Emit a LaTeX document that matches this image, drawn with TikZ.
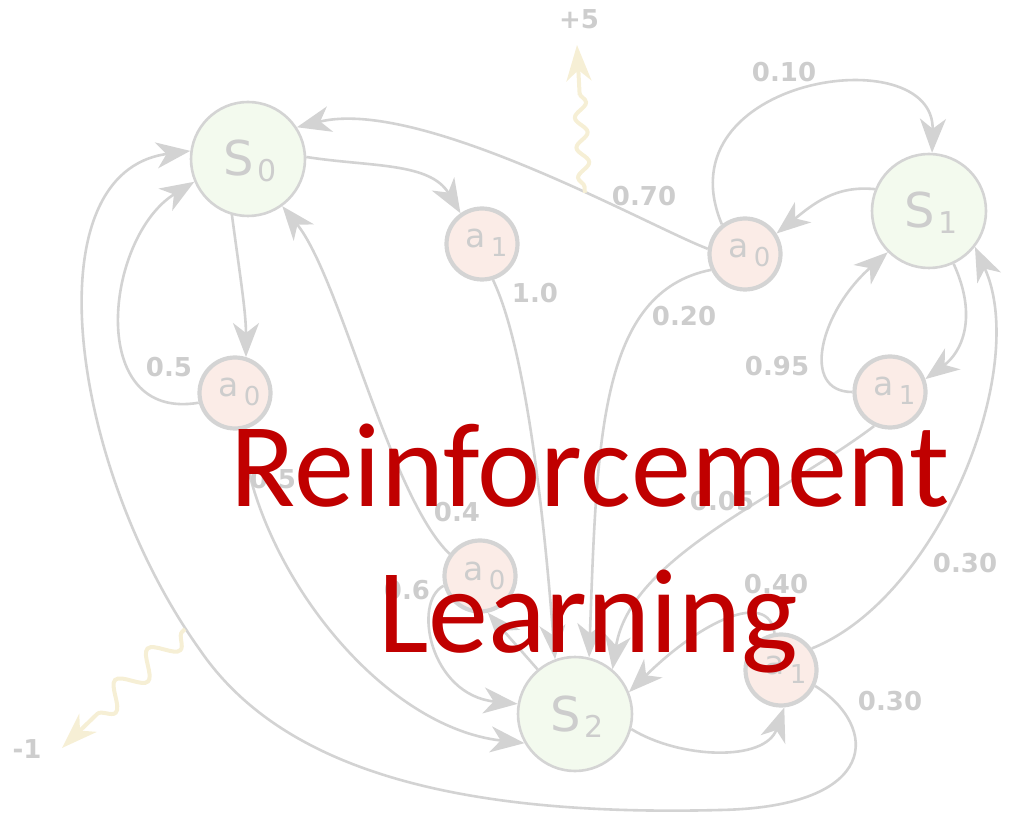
\documentclass[tikz,border=0pt]{standalone}
\usepackage{fontspec}
\setmainfont{Carlito}
\newfontfamily\dejavu{DejaVu Sans}
\usetikzlibrary{arrows.meta,decorations.pathmorphing}

\definecolor{edgegray}{HTML}{D3D3D3}
\definecolor{labelgray}{HTML}{CDCDCD}
\definecolor{ringgray}{HTML}{D4D4D4}
\definecolor{statefill}{HTML}{F3FAEE}
\definecolor{actionfill}{HTML}{FBECE7}
\definecolor{rewardyellow}{HTML}{F6EFD5}
\definecolor{titlered}{HTML}{C00000}

% state and action labels with lowered indices
\newcommand\stlabel[1]{\kern4pt S\kern3pt\raisebox{-6pt}{\fontsize{30}{30}\selectfont #1}}
\newcommand\aclabel[1]{\kern9pt a\kern5pt\raisebox{-9pt}{\fontsize{26}{26}\selectfont #1}}

\tikzset{
  statenode/.style={circle, draw=ringgray, line width=2.6pt, fill=statefill,
    minimum size=114pt, inner sep=0pt, text=labelgray,
    font=\dejavu\fontsize{48}{48}\selectfont, text height=34pt, text depth=0pt},
  actionnode/.style={circle, draw=ringgray, line width=4.2pt, fill=actionfill,
    minimum size=71pt, inner sep=0pt, text=labelgray,
    font=\dejavu\fontsize{33}{33}\selectfont, text height=8pt, text depth=0pt},
  edge/.style={draw=edgegray, line width=2.6pt,
    -{Stealth[length=34pt,width=26pt,inset=10pt]}},
  prob/.style={text=labelgray, font=\dejavu\bfseries\fontsize{26}{26}\selectfont, inner sep=0pt},
  reward/.style={draw=rewardyellow, line width=4pt,
    -{Stealth[length=36pt,width=25pt,inset=11pt]}, decorate},
  titletext/.style={text=titlered, font=\fontsize{120}{120}\selectfont, inner sep=0pt, anchor=base},
}

\begin{document}
\begin{tikzpicture}[x=1pt,y=1pt]
\path[use as bounding box] (0,0) rectangle (1011,817);

% states
\node[statenode] (S0) at (248,658) {\stlabel{0}};
\node[statenode] (S1) at (929,606) {\stlabel{1}};
\node[statenode] (S2) at (575,103) {\stlabel{2}};

% actions
\node[actionnode] (a0l) at (235,424) {\aclabel{0}};
\node[actionnode] (a1t) at (482,573) {\aclabel{1}};
\node[actionnode] (a0r) at (745,563) {\aclabel{0}};
\node[actionnode] (a1r) at (890,425) {\aclabel{1}};
\node[actionnode] (a0m) at (480,241) {\aclabel{0}};
\node[actionnode] (a1b) at (781,147) {\aclabel{1}};

% choices of action
\draw[edge] (S0.2) .. controls (370,650) and (430,655) .. (a1t.125);
\draw[edge] (S0.-106) .. controls +(8,-60) and +(0,45) .. (a0l.73);
\draw[edge] (S1.158) .. controls (835,632) and (812,612) .. (a0r.33);
\draw[edge] (S1.-65) .. controls (978,500) and (962,465) .. (a1r.20);
\draw[edge] (S2.130) -- (a0m.-78);
\draw[edge] (S2.-15) .. controls (680,58) and (765,55) .. (a1b.-85);

% transitions
\draw[edge] (a0l.195) .. controls (85,395) and (105,580) .. (S0.203);
\draw[edge] (a0l.-80) .. controls (255,250) and (380,90) .. (S2.210);
\draw[edge] (a1t.-73) .. controls (530,460) and (547,260) .. (S2.110);
\draw[edge] (a0r.205) .. controls (600,525) and (597,380) .. (S2.76);
\draw[edge] (a0r.172) .. controls (650,590) and (420,720) .. (S0.33)
  coordinate[pos=0.375] (plusstart);
\draw[edge] (a0r.128) .. controls (660,740) and (935,780) .. (S1.87);
\draw[edge] (a1r.180) .. controls (800,425) and (820,505) .. (S1.225);
\draw[edge] (a1r.245) .. controls (780,320) and (630,260) .. (S2.50);
\draw[edge] (a0m.144) .. controls (390,320) and (340,540) .. (S0.-54);
\draw[edge] (a0m.195) .. controls (412,215) and (430,122) .. (S2.170);
\draw[edge] (a1b.100) .. controls (768,228) and (700,195) .. (S2.22);
\draw[edge] (a1b.35) .. controls (940,220) and (1030,450) .. (S1.-38);
\draw[edge] (a1b.-25) .. controls (880,90) and (880,10) .. (720,7)
  .. controls (450,0) and (280,50) .. (200,167)
  .. controls (70,349) and (30,645) .. (S0.172);

% probabilities
\node[prob] at (169,450) {0.5};
\node[prob] at (273,338) {0.5};
\node[prob] at (457,305) {0.4};
\node[prob] at (407,227) {0.6};
\node[prob] at (535,524) {1.0};
\node[prob] at (644,621) {0.70};
\node[prob] at (784,745) {0.10};
\node[prob] at (684,501) {0.20};
\node[prob] at (777,451) {0.95};
\node[prob] at (722,316) {0.05};
\node[prob] at (776,233) {0.40};
\node[prob] at (965,254) {0.30};
\node[prob] at (890,116) {0.30};

% rewards
\coordinate (plustip) at (577,772);
\draw[reward, decoration={snake, amplitude=6pt, segment length=30pt,
  pre length=6pt, post length=38pt}] (plusstart) -- (plustip);
\node[prob] (plus) at (579,798) {+5};

\coordinate (minusstart) at (185,188);
\coordinate (minustip) at (62,69);
\draw[reward, decoration={snake, amplitude=12pt, segment length=45pt,
  pre length=4pt, post length=38pt}] (minusstart) -- (minustip);
\node[prob] (minus) at (27,68) {-1};

% title
\node[titletext] (t1) at (590,310) {Reinforcement};
\node[titletext] (t2) at (588,165) {Learning};
\end{tikzpicture}
\end{document}
